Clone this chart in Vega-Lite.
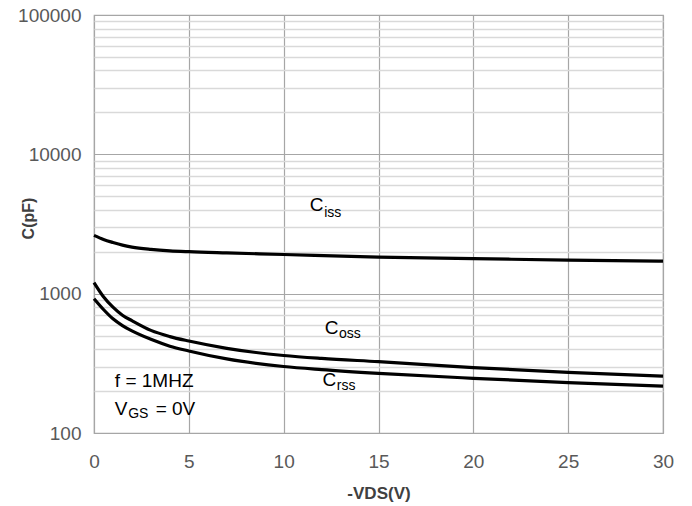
{
  "$schema": "https://vega.github.io/schema/vega-lite/v6.json",
  "autosize": "none",
  "width": 569,
  "height": 418,
  "padding": {"left": 94, "top": 15, "right": 29, "bottom": 73},
  "background": "white",
  "config": {
    "font": "Liberation Sans",
    "view": {"stroke": "#a6a6a6", "strokeWidth": 1.2}
  },
  "datasets": {
    "curves": [
      {"v": 0, "c": 2620, "s": "Ciss"}, {"v": 0.5, "c": 2450, "s": "Ciss"}, {"v": 1, "c": 2330, "s": "Ciss"}, {"v": 1.5, "c": 2230, "s": "Ciss"}, {"v": 2, "c": 2160, "s": "Ciss"}, {"v": 3, "c": 2080, "s": "Ciss"}, {"v": 4, "c": 2030, "s": "Ciss"}, {"v": 5, "c": 2000, "s": "Ciss"}, {"v": 7, "c": 1960, "s": "Ciss"}, {"v": 10, "c": 1910, "s": "Ciss"}, {"v": 15, "c": 1830, "s": "Ciss"}, {"v": 20, "c": 1785, "s": "Ciss"}, {"v": 25, "c": 1740, "s": "Ciss"}, {"v": 30, "c": 1710, "s": "Ciss"},
      {"v": 0, "c": 1200, "s": "Coss"}, {"v": 0.5, "c": 950, "s": "Coss"}, {"v": 1, "c": 800, "s": "Coss"}, {"v": 1.5, "c": 700, "s": "Coss"}, {"v": 2, "c": 640, "s": "Coss"}, {"v": 3, "c": 545, "s": "Coss"}, {"v": 4, "c": 492, "s": "Coss"}, {"v": 5, "c": 457, "s": "Coss"}, {"v": 7, "c": 405, "s": "Coss"}, {"v": 10, "c": 360, "s": "Coss"}, {"v": 12, "c": 343, "s": "Coss"}, {"v": 15, "c": 325, "s": "Coss"}, {"v": 20, "c": 295, "s": "Coss"}, {"v": 25, "c": 272, "s": "Coss"}, {"v": 30, "c": 256, "s": "Coss"},
      {"v": 0, "c": 920, "s": "Crss"}, {"v": 0.5, "c": 770, "s": "Crss"}, {"v": 1, "c": 660, "s": "Crss"}, {"v": 1.5, "c": 590, "s": "Crss"}, {"v": 2, "c": 540, "s": "Crss"}, {"v": 3, "c": 470, "s": "Crss"}, {"v": 4, "c": 420, "s": "Crss"}, {"v": 5, "c": 388, "s": "Crss"}, {"v": 7, "c": 340, "s": "Crss"}, {"v": 10, "c": 300, "s": "Crss"}, {"v": 12, "c": 285, "s": "Crss"}, {"v": 15, "c": 268, "s": "Crss"}, {"v": 20, "c": 247, "s": "Crss"}, {"v": 25, "c": 230, "s": "Crss"}, {"v": 30, "c": 217, "s": "Crss"}
    ],
    "mainText": [
      {"v": 11.37, "c": 4310, "t": "C"},
      {"v": 12.16, "c": 566, "t": "C"},
      {"v": 12.05, "c": 240, "t": "C"},
      {"v": 1.1, "c": 237, "t": "f = 1MHZ"},
      {"v": 1.1, "c": 149, "t": "V"},
      {"v": 3.25, "c": 149, "t": "= 0V"}
    ],
    "subText": [
      {"v": 12.14, "c": 3775, "t": "iss"},
      {"v": 12.92, "c": 513, "t": "oss"},
      {"v": 12.8, "c": 217, "t": "rss"},
      {"v": 1.8, "c": 137, "t": "GS"}
    ]
  },
  "encoding": {
    "x": {
      "field": "v", "type": "quantitative",
      "scale": {"domain": [0, 30], "nice": false, "zero": false},
      "axis": {
        "values": [0, 5, 10, 15, 20, 25, 30],
        "title": "-VDS(V)",
        "titleFont": "Liberation Sans", "titleFontSize": 17, "titleFontWeight": "bold", "titleColor": "#404040",
        "titleY": 60, "titleBaseline": "middle",
        "labelFontSize": 19, "labelColor": "#595959", "labelPadding": 19, "labelFlush": false,
        "ticks": false, "domain": false,
        "grid": true, "gridColor": "#a6a6a6", "gridWidth": 1.2
      }
    },
    "y": {
      "field": "c", "type": "quantitative",
      "scale": {"type": "log", "domain": [100, 100000], "nice": false},
      "axis": {
        "values": [100, 200, 300, 400, 500, 600, 700, 800, 900, 1000, 2000, 3000, 4000, 5000, 6000, 7000, 8000, 9000, 10000, 20000, 30000, 40000, 50000, 60000, 70000, 80000, 90000, 100000],
        "labelExpr": "(datum.value == 100 || datum.value == 1000 || datum.value == 10000 || datum.value == 100000) ? format(datum.value, 'd') : ''",
        "title": "C(pF)",
        "titleFont": "Liberation Sans", "titleFontSize": 16, "titleFontWeight": "bold", "titleColor": "#404040",
        "titleX": -66, "titleY": 203, "titleBaseline": "middle", "titleAngle": -90,
        "labelFontSize": 19, "labelColor": "#595959", "labelPadding": 13, "labelFlush": false,
        "ticks": false, "domain": false,
        "grid": true,
        "gridColor": {"condition": {"test": "datum.value == 100 || datum.value == 1000 || datum.value == 10000 || datum.value == 100000", "value": "#a6a6a6"}, "value": "#d9d9d9"},
        "gridWidth": {"condition": {"test": "datum.value == 100 || datum.value == 1000 || datum.value == 10000 || datum.value == 100000", "value": 1.2}, "value": 1.6}
      }
    }
  },
  "layer": [
    {
      "data": {"name": "curves"},
      "mark": {"type": "line", "color": "black", "strokeWidth": 3.2, "interpolate": "monotone"},
      "encoding": {"detail": {"field": "s"}}
    },
    {
      "data": {"name": "mainText"},
      "mark": {"type": "text", "align": "left", "baseline": "middle", "fontSize": 19, "color": "black", "font": "Liberation Sans"},
      "encoding": {"text": {"field": "t"}}
    },
    {
      "data": {"name": "subText"},
      "mark": {"type": "text", "align": "left", "baseline": "middle", "fontSize": 14, "color": "black", "font": "Liberation Sans"},
      "encoding": {"text": {"field": "t"}}
    }
  ]
}
